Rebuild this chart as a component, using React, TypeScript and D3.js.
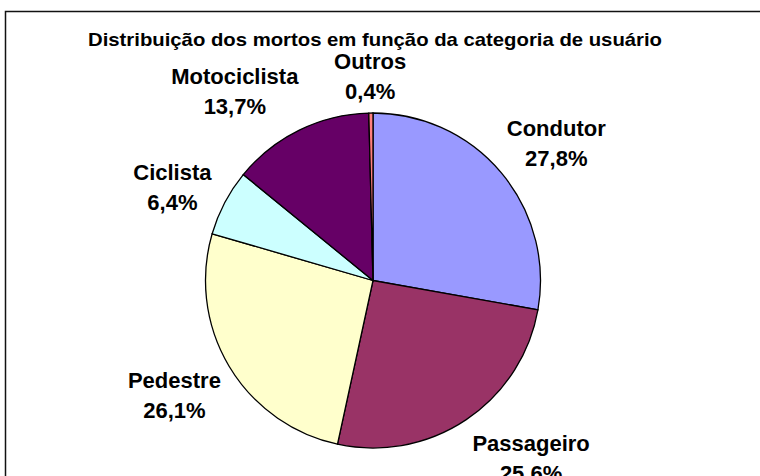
import React from 'react';
import * as d3 from 'd3';

// data
const categories = ['Condutor', 'Passageiro', 'Pedestre', 'Ciclista', 'Motociclista', 'Outros'];
const shares = [27.8, 25.6, 26.1, 6.4, 13.7, 0.4];
const shareLabels = ['27,8%', '25,6%', '26,1%', '6,4%', '13,7%', '0,4%'];
const sliceColors = ['#9999FF', '#993366', '#FFFFCC', '#CCFFFF', '#660066', '#FF8080'];
const title = 'Distribuição dos mortos em função da categoria de usuário';

// excel moves a few labels around to avoid the neighbours
const labelNudge: [number, number][] = [[7, 3], [30, -21], [-1, -10], [3, 6], [-37, 10], [0, 18]];

const width = 760;
const height = 476;
const cx = 373;
const cy = 280.5;
const radius = 167.5;

export default function App() {
  const pie = d3.pie<number>().sort(null).value(d => d);
  const slices = pie(shares);
  const arc = d3.arc<d3.PieArcDatum<number>>().innerRadius(0).outerRadius(radius);
  const labelArc = d3.arc<d3.PieArcDatum<number>>().innerRadius(230).outerRadius(230);
  const font = 'Arial, "Liberation Sans", sans-serif';

  return (
    <svg width={width} height={height} style={{ position: 'absolute', left: 0, top: 0, display: 'block' }}>
      <rect x={0} y={0} width={width} height={height} fill="#fff" />
      <rect x={5.5} y={11.5} width={900} height={600} fill="none" stroke="#111" strokeWidth={1.5} />
      <text x={88} y={46} fontFamily={font} fontWeight="bold" fontSize={19} fill="#000"
        textLength={574} lengthAdjust="spacingAndGlyphs">
        {title}
      </text>
      <g transform={`translate(${cx},${cy})`}>
        {slices.map((s, i) => (
          <path key={i} d={arc(s) || ''} fill={sliceColors[i]} stroke="#000" strokeWidth={1.3} />
        ))}
        {slices.map((s, i) => {
          const [x, y] = labelArc.centroid(s);
          const lx = x + labelNudge[i][0];
          const ly = y + labelNudge[i][1];
          return (
            <text key={'l' + i} textAnchor="middle" fontFamily={font} fontWeight="bold" fontSize={22} fill="#000">
              <tspan x={lx} y={ly}>{categories[i]}</tspan>
              <tspan x={lx} y={ly + 30}>{shareLabels[i]}</tspan>
            </text>
          );
        })}
      </g>
    </svg>
  );
}
